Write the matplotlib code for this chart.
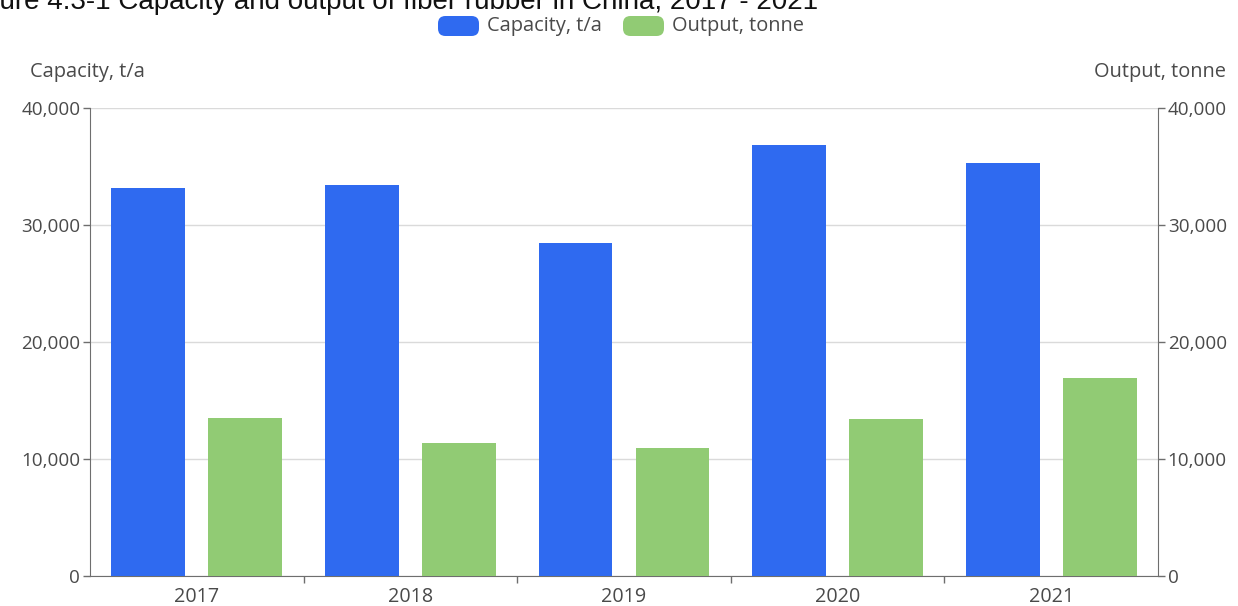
import matplotlib.pyplot as plt
from matplotlib.patches import FancyBboxPatch
from matplotlib.ticker import FuncFormatter, FixedLocator
import numpy as np

# Capacity and output of fiber rubber in China, 2017-2021
years = ['2017', '2018', '2019', '2020', '2021']
capacity = [33200, 33400, 28500, 36800, 35300]   # t/a
output = [13500, 11400, 10900, 13400, 16900]     # tonne

blue = '#2F6AF0'
green = '#91CB74'
text_col = '#4A4A4A'
axis_col = '#6E6E6E'
grid_col = '#DADADA'

plt.rcParams['font.family'] = ['Open Sans', 'DejaVu Sans']

fig = plt.figure(figsize=(12.38, 6.06), dpi=100)
ax = fig.add_axes([90 / 1238, 30 / 606, 1068 / 1238, 468 / 606])
ax2 = ax.twinx()

x = np.arange(len(years))
w = 0.346
ax.bar(x - 0.227, capacity, width=w, color=blue, zorder=3)
ax2.bar(x + 0.227, output, width=w, color=green, zorder=3)

for a in (ax, ax2):
    a.set_ylim(0, 40000)
    a.set_xlim(-0.5, len(years) - 0.5)
    a.set_yticks([0, 10000, 20000, 30000, 40000])
    a.yaxis.set_major_formatter(FuncFormatter(lambda v, p: f'{int(v):,}'))
    a.tick_params(axis='y', length=5, width=1, color=axis_col,
                  labelsize=13.6, labelcolor=text_col, pad=2)
    a.spines['top'].set_visible(False)

ax.spines['right'].set_visible(False)
ax2.spines['left'].set_visible(False)
ax.spines['left'].set_color(axis_col)
ax2.spines['right'].set_color(axis_col)
ax.spines['bottom'].set_color(axis_col)
ax2.spines['bottom'].set_visible(False)
ax2.patch.set_visible(False)

ax.grid(axis='y', color=grid_col, linewidth=1, zorder=0)
ax.set_xticks(x)
ax.set_xticklabels(years)
ax.tick_params(axis='x', which='major', length=0, labelsize=14.2,
               labelcolor=text_col, pad=8)
ax.xaxis.set_minor_locator(FixedLocator(np.arange(0.5, len(years) - 0.5, 1)))
ax.tick_params(axis='x', which='minor', length=5, width=1, color=axis_col)

# axis titles
fig.text(30 / 1238, 1 - 72 / 606, 'Capacity, t/a', fontsize=14.4,
         color=text_col, va='center', ha='left')
fig.text(1226 / 1238, 1 - 72 / 606, 'Output, tonne', fontsize=14.4,
         color=text_col, va='center', ha='right')

# figure caption along the top edge
fig.text(-0.0315, 1 - 9 / 606,
         'Figure 4.3-1 Capacity and output of fiber rubber in China, 2017 - 2021',
         fontsize=20, family='Liberation Sans', color='#111111',
         va='baseline', ha='left')

# legend with rounded swatches
for bx, col, label in [(438, blue, 'Capacity, t/a'), (623, green, 'Output, tonne')]:
    box = FancyBboxPatch((bx / 1238, 1 - 36 / 606), 41 / 1238, 20 / 606,
                         boxstyle='round,pad=0,rounding_size=0.006',
                         transform=fig.transFigure, facecolor=col,
                         edgecolor='none', mutation_aspect=1238 / 606)
    fig.patches.append(box)
    fig.text((bx + 49) / 1238, 1 - 26 / 606, label, fontsize=14.4,
             color=text_col, va='center', ha='left')

fig.savefig('out.png', dpi=100, facecolor='white')
